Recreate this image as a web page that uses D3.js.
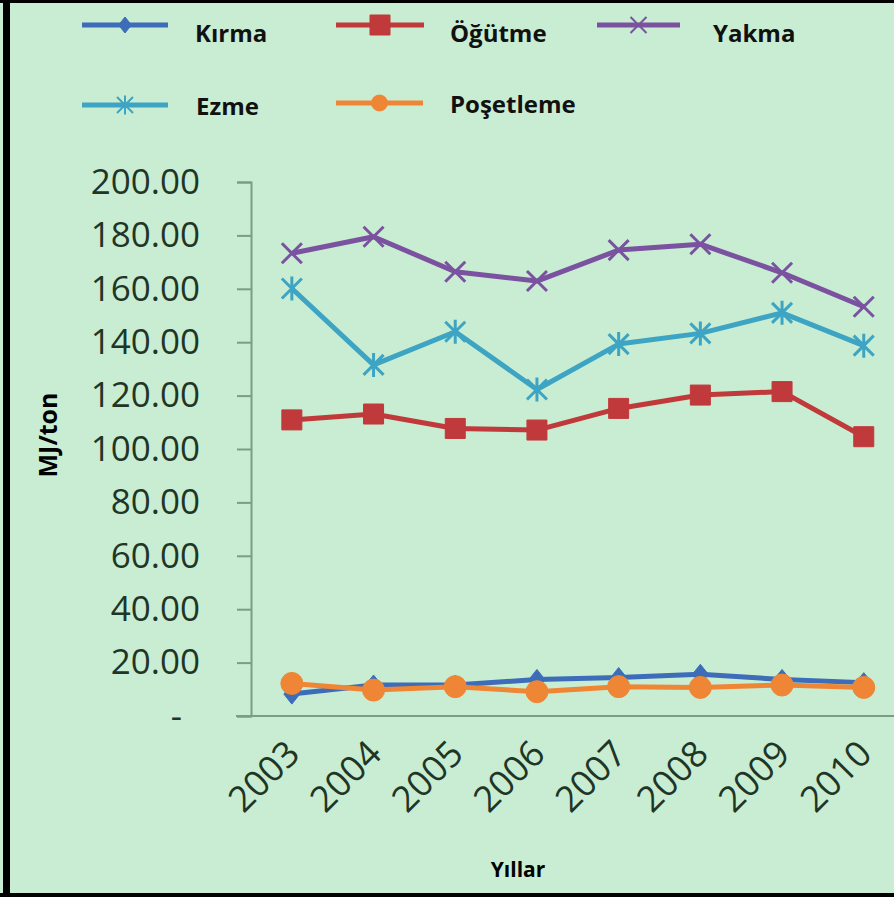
<!DOCTYPE html>
<html>
<head>
<meta charset="utf-8">
<script src="https://cdn.jsdelivr.net/npm/d3@7"></script>
<style>
  body { margin: 0; background: #fff; }
  text { font-family: "Open Sans", sans-serif; }
</style>
</head>
<body>
<div id="root"></div>
<script>
// Values (MJ/ton)
const years = ["2003", "2004", "2005", "2006", "2007", "2008", "2009", "2010"];
const kirma = [8.2, 11.6, 11.6, 13.7, 14.4, 15.6, 13.7, 12.5];
const ogutme = [110.9, 113.1, 107.7, 107.1, 115.2, 120.2, 121.5, 104.6];
const yakma = [173.3, 179.5, 166.4, 162.9, 174.5, 176.7, 166.0, 153.3];
const ezme = [160.1, 131.5, 143.9, 122.3, 139.3, 143.3, 151.0, 138.7];
const posetleme = [12.2, 9.7, 11.0, 9.1, 11.0, 10.7, 11.6, 10.7];

const seriesNames = ["Kırma", "Öğütme", "Yakma", "Ezme", "Poşetleme"];
const yTicks = [0, 20, 40, 60, 80, 100, 120, 140, 160, 180, 200];

const width = 894;
const height = 897;
const bg = "#c8edd2";
const textColor = "#1f3526";
const axisColor = "#7c9c84";

const styles = [
  { color: "#3d6db8", marker: "diamond" },
  { color: "#c0393b", marker: "square" },
  { color: "#7a52a0", marker: "x" },
  { color: "#3ea4c3", marker: "star" },
  { color: "#ef8635", marker: "circle" }
];

const series = [kirma, ogutme, yakma, ezme, posetleme].map((vals, i) => ({
  name: seriesNames[i],
  values: vals,
  color: styles[i].color,
  marker: styles[i].marker
}));

// marker shapes, centred on 0,0
function markerPath(type, r) {
  if (type === "diamond") return `M0,${-r}L${r * 0.8},0L0,${r}L${-r * 0.8},0Z`;
  if (type === "square") return `M${-r},${-r}H${r}V${r}H${-r}Z`;
  if (type === "circle") return d3.symbol(d3.symbolCircle, Math.PI * r * r)();
  const x = `M${-r},${-r}L${r},${r}M${-r},${r}L${r},${-r}`;
  if (type === "x") return x;
  return x + `M0,${-r * 1.2}V${r * 1.2}`;
}
const isOpen = t => t === "x" || t === "star";

const svg = d3.select("#root").append("svg")
  .attr("width", width)
  .attr("height", height);

svg.append("defs").append("clipPath").attr("id", "frame")
  .append("rect").attr("x", 10).attr("y", 3).attr("width", width - 10).attr("height", height - 7);

svg.append("rect").attr("width", width).attr("height", height).attr("fill", bg);

const g = svg.append("g").attr("clip-path", "url(#frame)");

// scales
const x = d3.scaleBand().domain(years).range([251, 251 + 8 * 81.7]);
const cx = d => x(d) + x.bandwidth() / 2;
const y = d3.scaleLinear().domain([0, 200]).range([716, 182]);

// y axis
const yAxis = g.append("g")
  .attr("transform", "translate(251,0)")
  .call(d3.axisLeft(y)
    .tickValues(yTicks)
    .tickSize(14)
    .tickPadding(37)
    .tickFormat(d => d === 0 ? "-" : d3.format(".2f")(d)));
yAxis.select(".domain").attr("stroke", axisColor).attr("stroke-width", 2);
yAxis.selectAll(".tick line").attr("stroke", axisColor).attr("stroke-width", 2);
yAxis.selectAll(".tick text")
  .attr("fill", textColor)
  .attr("font-size", 35)
  .attr("font-family", "Open Sans")
  .attr("dx", d => d === 0 ? -18 : 0);

// x axis (no ticks, labels rotated)
const xAxis = g.append("g")
  .attr("transform", "translate(0,716)")
  .call(d3.axisBottom(x).tickSize(0).tickPadding(0));
xAxis.select(".domain").remove();
xAxis.append("line")
  .attr("x1", 236).attr("x2", width)
  .attr("stroke", axisColor).attr("stroke-width", 2);
xAxis.selectAll(".tick text")
  .attr("fill", textColor)
  .attr("font-size", 36)
  .attr("font-family", "Open Sans")
  .attr("text-anchor", "end")
  .attr("dy", 0)
  .attr("transform", "translate(10,40) rotate(-45)");

// lines and markers
const line = d3.line().x((d, i) => cx(years[i])).y(d => y(d));
series.forEach(s => {
  const sg = g.append("g");
  sg.append("path")
    .attr("d", line(s.values))
    .attr("fill", "none")
    .attr("stroke", s.color)
    .attr("stroke-width", 5)
    .attr("stroke-linejoin", "round");
  sg.selectAll("path.mk")
    .data(s.values)
    .join("path")
    .attr("class", "mk")
    .attr("transform", (d, i) => `translate(${cx(years[i])},${y(d)})`)
    .attr("d", markerPath(s.marker, s.marker === "circle" ? 11 : 10))
    .attr("fill", isOpen(s.marker) ? "none" : s.color)
    .attr("stroke", s.color)
    .attr("stroke-width", isOpen(s.marker) ? 3 : 1);
});

// axis titles
svg.append("text")
  .attr("transform", "translate(57,435) rotate(-90)")
  .attr("text-anchor", "middle")
  .attr("font-size", 25)
  .attr("font-weight", "bold")
  .attr("fill", "#000")
  .text("MJ/ton");

svg.append("text")
  .attr("x", 518).attr("y", 877)
  .attr("text-anchor", "middle")
  .attr("font-size", 21)
  .attr("font-weight", "bold")
  .attr("fill", "#000")
  .text("Yıllar");

// legend
const legendPos = [
  { x1: 82, x2: 168, ly: 25, tx: 195, ty: 42 },
  { x1: 336, x2: 424, ly: 25, tx: 450, ty: 42 },
  { x1: 597, x2: 680, ly: 25, tx: 713, ty: 42 },
  { x1: 82, x2: 168, ly: 105, tx: 196, ty: 115 },
  { x1: 336, x2: 423, ly: 103, tx: 450, ty: 113 }
];
series.forEach((s, i) => {
  const p = legendPos[i];
  const lg = svg.append("g");
  lg.append("line")
    .attr("x1", p.x1).attr("x2", p.x2)
    .attr("y1", p.ly).attr("y2", p.ly)
    .attr("stroke", s.color).attr("stroke-width", 5);
  lg.append("path")
    .attr("transform", `translate(${(p.x1 + p.x2) / 2},${p.ly})`)
    .attr("d", markerPath(s.marker, s.marker === "square" ? 10 : 8))
    .attr("fill", isOpen(s.marker) ? "none" : s.color)
    .attr("stroke", s.color)
    .attr("stroke-width", isOpen(s.marker) ? 2 : 1);
  lg.append("text")
    .attr("x", p.tx).attr("y", p.ty)
    .attr("font-size", 24)
    .attr("font-weight", "bold")
    .attr("fill", "#111")
    .text(s.name);
});

// black frame
svg.append("rect").attr("x", 0).attr("y", 0).attr("width", width).attr("height", 3).attr("fill", "#000");
svg.append("rect").attr("x", 3).attr("y", 0).attr("width", 7).attr("height", height).attr("fill", "#000");
svg.append("rect").attr("x", 0).attr("y", height - 4).attr("width", width).attr("height", 4).attr("fill", "#000");
</script>
</body>
</html>
